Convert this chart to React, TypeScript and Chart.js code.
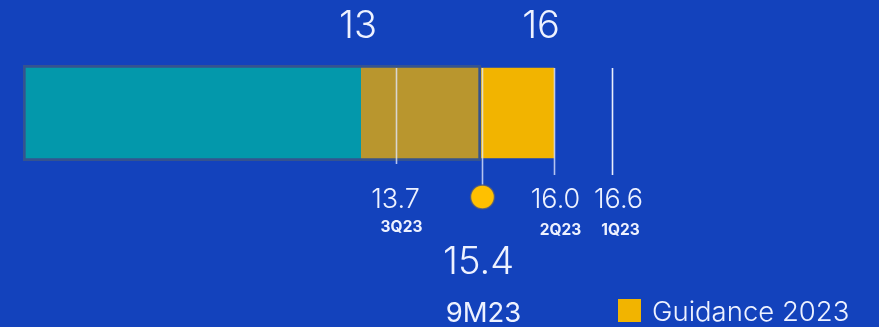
import React, { useEffect, useRef } from 'react';
import { Chart, registerables, LinearScale } from 'chart.js';

// ---------- data ----------
const CATEGORIES = ['2023'];
const NINE_M_LABEL = '9M23';
const NINE_M_VALUE = 15.4;
const GUIDANCE_LABEL = 'Guidance 2023';
const GUIDANCE_RANGE = [13, 16];
const GUIDANCE_TICK_LABELS = ['13', '16'];
const QUARTER_LABELS = ['3Q23', '2Q23', '1Q23'];
const QUARTER_VALUES = [13.7, 16.0, 16.6];

// ---------- styles ----------
const BG = '#1342BC';
const TEAL = '#0398AB';
const YELLOW = '#F2B400';
const OVERLAP = '#B9962E';
const BAR_BORDER = '#35538F';
const DOT = '#FFC000';
const TEXT = '#EEF2FF';
const LINE = 'rgba(225,232,255,0.78)';
const FONT = 'Inter, "Noto Sans", sans-serif';

// Infographic axis: not to scale, so a piecewise axis (value -> fraction of width)
const X_STOPS: [number, number][] = [
  [0, 0],
  [13, 0.4058],
  [15.4, 0.5498],
  [16, 0.6375],
  [16.6, 0.7071],
  [20, 1],
];

function interp(v: number, a: number, b: number): number {
  const s = X_STOPS;
  let i = 0;
  while (i < s.length - 2 && v > s[i + 1][a]) i++;
  const [p, q] = [s[i], s[i + 1]];
  return p[b] + ((v - p[a]) * (q[b] - p[b])) / (q[a] - p[a]);
}

class PiecewiseScale extends LinearScale {
  static id = 'piecewise';
  static defaults = { ...(LinearScale as any).defaults };
  getPixelForValue(value: number) {
    if (value == null || isNaN(value)) return NaN;
    return this.getPixelForDecimal(interp(value, 0, 1));
  }
  getValueForPixel(pixel: number) {
    return interp(this.getDecimalForPixel(pixel), 1, 0);
  }
}

Chart.register(...registerables, PiecewiseScale as any);

const bgPlugin = {
  id: 'bg',
  beforeDraw(chart: any) {
    const { ctx, width, height } = chart;
    ctx.save();
    ctx.fillStyle = BG;
    ctx.fillRect(0, 0, width, height);
    ctx.restore();
  },
};

function text(ctx: any, s: string, x: number, y: number, size: number, weight: number, align = 'center') {
  ctx.font = `${weight} ${size}px ${FONT}`;
  ctx.fillStyle = TEXT;
  ctx.textAlign = align;
  ctx.textBaseline = 'alphabetic';
  ctx.fillText(s, x, y);
}

const annotatePlugin = {
  id: 'annotate',
  afterDatasetsDraw(chart: any) {
    const { ctx } = chart;
    const x = chart.scales.x;
    const barTop = 68;
    ctx.save();
    // quarter lines
    const qBottoms = [164, 175, 175];
    const vDx = [-1, 1, 6];
    const qDx = [5, 6, 8];
    const qY = [232, 235, 235];
    ctx.lineWidth = 1.6;
    QUARTER_VALUES.forEach((v, i) => {
      const px = Math.round(x.getPixelForValue(v)) + 0.5;
      ctx.strokeStyle = i === 2 ? 'rgba(245,248,255,0.95)' : LINE;
      ctx.beginPath();
      ctx.moveTo(px, barTop);
      ctx.lineTo(px, qBottoms[i]);
      ctx.stroke();
      text(ctx, v.toFixed(1), px + vDx[i], 208, 27, 300);
      text(ctx, QUARTER_LABELS[i], px + qDx[i], qY[i], 15.5, 700);
    });
    // 9M23 line + dot
    const mx = Math.round(x.getPixelForValue(NINE_M_VALUE)) + 1.5;
    ctx.strokeStyle = LINE;
    ctx.beginPath();
    ctx.moveTo(mx, barTop);
    ctx.lineTo(mx, 185);
    ctx.stroke();
    ctx.beginPath();
    ctx.arc(mx, 197, 12, 0, Math.PI * 2);
    ctx.fillStyle = DOT;
    ctx.fill();
    ctx.lineWidth = 1.5;
    ctx.strokeStyle = 'rgba(70,85,130,0.8)';
    ctx.stroke();
    text(ctx, NINE_M_VALUE.toFixed(1), mx - 4, 274, 38, 300);
    text(ctx, NINE_M_LABEL, mx + 1, 322, 27.5, 400);
    // guidance range labels
    const gDx = [-3, -13];
    GUIDANCE_RANGE.forEach((v, i) => {
      text(ctx, GUIDANCE_TICK_LABELS[i], x.getPixelForValue(v) + gDx[i], 38, 38, 300);
    });
    ctx.restore();
  },
  afterDraw(chart: any) {
    const { ctx } = chart;
    const ds = chart.data.datasets[0];
    ctx.save();
    ctx.fillStyle = ds.backgroundColor;
    ctx.fillRect(618, 299, 23, 23);
    text(ctx, ds.label, 652, 321, 27.5, 300, 'left');
    ctx.restore();
  },
};

export default function App() {
  const ref = useRef<HTMLCanvasElement | null>(null);
  useEffect(() => {
    const canvas = ref.current!;
    const chart = new Chart(canvas, {
      type: 'bar',
      data: {
        labels: CATEGORIES,
        datasets: [
          {
            label: GUIDANCE_LABEL,
            data: [GUIDANCE_RANGE] as any,
            backgroundColor: YELLOW,
            borderWidth: 0,
            barThickness: 90,
            order: 3,
          },
          {
            label: NINE_M_LABEL,
            data: [[0, GUIDANCE_RANGE[0]]] as any,
            backgroundColor: TEAL,
            borderColor: BAR_BORDER,
            borderWidth: { top: 3, bottom: 3, left: 3, right: 0 } as any,
            borderSkipped: false,
            barThickness: 96,
            order: 2,
          },
          {
            label: NINE_M_LABEL + ' (within guidance)',
            data: [[GUIDANCE_RANGE[0], NINE_M_VALUE]] as any,
            backgroundColor: OVERLAP,
            borderColor: BAR_BORDER,
            borderWidth: { top: 3, bottom: 3, left: 0, right: 3 } as any,
            borderSkipped: false,
            barThickness: 96,
            order: 1,
          },
        ],
      },
      options: {
        indexAxis: 'y',
        animation: false,
        responsive: false,
        devicePixelRatio: 1,
        grouped: false,
        layout: { padding: { left: 23, right: 23, top: 65, bottom: 166 } },
        scales: {
          x: { type: 'piecewise' as any, min: 0, max: 20, display: false, grid: { display: false } },
          y: { type: 'category', display: false, grid: { display: false } },
        },
        plugins: { legend: { display: false }, tooltip: { enabled: false } },
      } as any,
      plugins: [bgPlugin, annotatePlugin],
    });
    return () => chart.destroy();
  }, []);
  return (
    <div style={{ position: 'fixed', left: 0, top: 0, width: 879, height: 327 }}>
      <canvas ref={ref} width={879} height={327} style={{ display: 'block' }} />
    </div>
  );
}
